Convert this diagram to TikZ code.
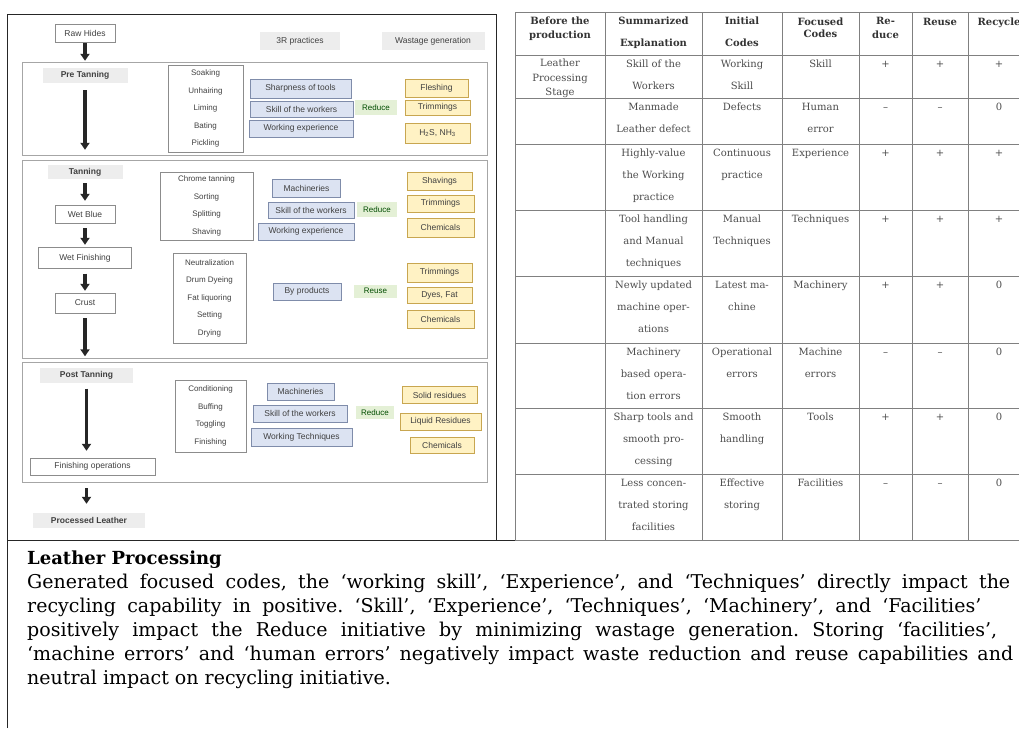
\documentclass[tikz,border=0pt]{standalone}
\usepackage{fontspec}
\setmainfont{DejaVu Serif}
\newfontfamily\diagfont{Liberation Sans}
\usepackage{tikz}
\usetikzlibrary{arrows.meta, positioning}
\tikzset{>={Triangle[width=9pt,length=7pt]}}
\frenchspacing

\definecolor{rfill}{HTML}{DCE3F2}
\definecolor{rdraw}{HTML}{7F8CAA}
\definecolor{gfill}{HTML}{E4F0D6}
\definecolor{wfill}{HTML}{FFF2C4}
\definecolor{wdraw}{HTML}{C8A650}
\definecolor{lfill}{HTML}{EDEDED}
\newcommand{\cstrut}{\rule{0pt}{7.6pt}}

\begin{document}
\begin{tikzpicture}[x=1pt, y=-1pt,
    stagebox/.style={draw=black!45, fill=white, inner sep=0pt, text=black!75, font=\diagfont\fontsize{8.5}{10}\selectfont},
    stagelabel/.style={fill=lfill, inner sep=0pt, text=black!75, font=\diagfont\bfseries\fontsize{8.5}{10}\selectfont},
    headlabel/.style={fill=lfill, inner sep=0pt, text=black!75, font=\diagfont\fontsize{8.5}{10}\selectfont},
    listbox/.style={draw=black!45, align=center, inner sep=0pt, text=black!75, font=\diagfont\fontsize{8}{17.5}\selectfont},
    rnode/.style={draw=rdraw, fill=rfill, line width=0.9pt, inner sep=0pt, text=black!75, font=\diagfont\fontsize{8.5}{10}\selectfont},
    actnode/.style={fill=gfill, inner sep=0pt, text=green!30!black, font=\diagfont\fontsize{8}{10}\selectfont},
    wastenode/.style={draw=wdraw, fill=wfill, line width=0.9pt, inner sep=0pt, text=black!75, font=\diagfont\fontsize{8.5}{10}\selectfont},
    bigarrow/.style={->, line width=3.2pt, black!85},
    outline/.style={draw=black!85, line width=1pt},
    section/.style={draw=black!35, line width=1pt},
    tabline/.style={draw=black!50, line width=0.8pt},
    headcell/.style={anchor=north, align=center, inner sep=0pt, text=black!80, font=\bfseries\fontsize{10}{22}\selectfont, execute at begin node=\cstrut},
    headtight/.style={headcell, font=\bfseries\fontsize{10}{14}\selectfont},
    cell/.style={anchor=north, align=center, inner sep=0pt, text=black!70, font=\fontsize{10}{22}\selectfont, execute at begin node=\cstrut},
    celltight/.style={cell, font=\fontsize{10}{14.5}\selectfont}]

    \useasboundingbox (0,0) rectangle (1019,728);

    %Frames
    \draw[outline] (7,728) -- (7,14.5) -- (496,14.5) -- (496,540);
    \draw[outline] (7,540) -- (1019,540);
    \draw[section] (22,62) rectangle (487,155);
    \draw[section] (22,160) rectangle (487,358);
    \draw[section] (22,362) rectangle (487,482);

    %Nodes
    \node[stagebox, minimum width=60pt, minimum height=18pt](raw) at (85,33) {Raw Hides};
    \node[headlabel, minimum width=80pt, minimum height=18pt](threer) at (300,41) {3R practices};
    \node[headlabel, minimum width=103pt, minimum height=18pt](wastage) at (433,41) {Wastage generation};

    \node[stagelabel, minimum width=85pt, minimum height=15pt](pre) at (85,75) {Pre Tanning};
    \node[listbox, minimum width=75pt, minimum height=87pt](pre_list) at (205.5,108.5) {Soaking\\Unhairing\\Liming\\Bating\\Pickling};
    \node[rnode, minimum width=101pt, minimum height=19pt](pre_sharp) at (300.5,88.5) {Sharpness of tools};
    \node[rnode, minimum width=103pt, minimum height=16pt](pre_skill) at (301.5,109) {Skill of the workers};
    \node[rnode, minimum width=104pt, minimum height=17pt](pre_work) at (301,128.5) {Working experience};
    \node[actnode, minimum width=42pt, minimum height=15pt](pre_reduce) at (376,107.5) {Reduce};
    \node[wastenode, minimum width=63pt, minimum height=18pt](pre_flesh) at (436.5,88) {Fleshing};
    \node[wastenode, minimum width=65pt, minimum height=15pt](pre_trim) at (437.5,107.5) {Trimmings};
    \node[wastenode, minimum width=65pt, minimum height=20pt](pre_gas) at (437.5,133) {H\textsubscript{2}S, NH\textsubscript{3}};

    \node[stagelabel, minimum width=75pt, minimum height=14pt](tan) at (85,172) {Tanning};
    \node[stagebox, minimum width=60pt, minimum height=18pt](wetblue) at (85,214) {Wet Blue};
    \node[stagebox, minimum width=93pt, minimum height=21pt](wetfin) at (85,258) {Wet Finishing};
    \node[stagebox, minimum width=60pt, minimum height=20pt](crust) at (85,303) {Crust};
    \node[listbox, minimum width=93pt, minimum height=68pt](tan_list) at (206.5,206) {Chrome tanning\\Sorting\\Splitting\\Shaving};
    \node[listbox, minimum width=73pt, minimum height=90pt](dye_list) at (209.5,298) {Neutralization\\Drum Dyeing\\Fat liquoring\\Setting\\Drying};
    \node[rnode, minimum width=68pt, minimum height=18pt](tan_mach) at (306.5,188) {Machineries};
    \node[rnode, minimum width=86pt, minimum height=16pt](tan_skill) at (311,210) {Skill of the workers};
    \node[rnode, minimum width=96pt, minimum height=17pt](tan_work) at (306,231.5) {Working experience};
    \node[actnode, minimum width=40pt, minimum height=15pt](tan_reduce) at (377,209.5) {Reduce};
    \node[wastenode, minimum width=65pt, minimum height=18pt](tan_shave) at (439.5,181) {Shavings};
    \node[wastenode, minimum width=67pt, minimum height=17pt](tan_trim) at (440.5,203.5) {Trimmings};
    \node[wastenode, minimum width=67pt, minimum height=19pt](tan_chem) at (440.5,227.5) {Chemicals};
    \node[rnode, minimum width=68pt, minimum height=17pt](tan_byprod) at (307,291.5) {By products};
    \node[actnode, minimum width=43pt, minimum height=13pt](tan_reuse) at (375.5,291) {Reuse};
    \node[wastenode, minimum width=65pt, minimum height=19pt](dye_trim) at (439.5,272.5) {Trimmings};
    \node[wastenode, minimum width=65pt, minimum height=16pt](dye_fat) at (439.5,295) {Dyes, Fat};
    \node[wastenode, minimum width=67pt, minimum height=18pt](dye_chem) at (440.5,319) {Chemicals};

    \node[stagelabel, minimum width=93pt, minimum height=15pt](post) at (86.5,375.5) {Post Tanning};
    \node[listbox, minimum width=71pt, minimum height=72pt](post_list) at (210.5,416) {Conditioning\\Buffing\\Toggling\\Finishing};
    \node[rnode, minimum width=67pt, minimum height=17pt](post_mach) at (300.5,391.5) {Machineries};
    \node[rnode, minimum width=94pt, minimum height=17pt](post_skill) at (300,413.5) {Skill of the workers};
    \node[rnode, minimum width=101pt, minimum height=18pt](post_tech) at (301.5,437) {Working Techniques};
    \node[actnode, minimum width=38pt, minimum height=13pt](post_reduce) at (375,412.5) {Reduce};
    \node[wastenode, minimum width=75pt, minimum height=17pt](post_solid) at (439.5,395) {Solid residues};
    \node[wastenode, minimum width=81pt, minimum height=17pt](post_liquid) at (440.5,421.5) {Liquid Residues};
    \node[wastenode, minimum width=64pt, minimum height=16pt](post_chem) at (442,445) {Chemicals};
    \node[stagebox, minimum width=125pt, minimum height=17pt](finops) at (92.5,466.5) {Finishing operations};
    \node[stagelabel, minimum width=112pt, minimum height=15pt](processed) at (89,520) {Processed Leather};

    %Table
    \foreach \yy in {12,55,98,144,210,276,343,408,474,540}
        \draw[tabline] (515,\yy) -- (1030,\yy);
    \foreach \xx in {515,605,702,782,859,912,968}
        \draw[tabline] (\xx,12) -- (\xx,540);

    \node[headtight](h_before) at (560,16.5) {Before the\\production};
    \node[headcell](h_expl) at (653.5,16.5) {Summarized\\Explanation};
    \node[headcell](h_init) at (742,16.5) {Initial\\Codes};
    \node[headtight, font=\bfseries\fontsize{10}{12.5}\selectfont](h_focus) at (820.5,17.5) {Focused\\Codes};
    \node[headtight](h_reduce) at (885.5,17.5) {Re-\\duce};
    \node[headcell](h_reuse) at (940,17.5) {Reuse};
    \node[headcell](h_recycle) at (999,17.5) {Recycle};

    \node[celltight](r1_stage) at (560,59) {Leather\\Processing\\Stage};
    \node[cell](r1_expl) at (653.5,60) {Skill of the\\Workers};
    \node[cell](r1_init) at (742,60) {Working\\Skill};
    \node[cell](r1_focus) at (820.5,60) {Skill};
    \node[cell](r1_red) at (885.5,60) {+};
    \node[cell](r1_reu) at (940,60) {+};
    \node[cell](r1_rec) at (999,60) {+};

    \node[cell](r2_expl) at (653.5,103) {Manmade\\Leather defect};
    \node[cell](r2_init) at (742,103) {Defects};
    \node[cell](r2_focus) at (820.5,103) {Human\\error};
    \node[cell](r2_red) at (885.5,103) {–};
    \node[cell](r2_reu) at (940,103) {–};
    \node[cell](r2_rec) at (999,103) {0};

    \node[cell](r3_expl) at (653.5,149) {Highly-value\\the Working\\practice};
    \node[cell](r3_init) at (742,149) {Continuous\\practice};
    \node[cell](r3_focus) at (820.5,149) {Experience};
    \node[cell](r3_red) at (885.5,149) {+};
    \node[cell](r3_reu) at (940,149) {+};
    \node[cell](r3_rec) at (999,149) {+};

    \node[cell](r4_expl) at (653.5,215) {Tool handling\\and Manual\\techniques};
    \node[cell](r4_init) at (742,215) {Manual\\Techniques};
    \node[cell](r4_focus) at (820.5,215) {Techniques};
    \node[cell](r4_red) at (885.5,215) {+};
    \node[cell](r4_reu) at (940,215) {+};
    \node[cell](r4_rec) at (999,215) {+};

    \node[cell](r5_expl) at (653.5,281) {Newly updated\\machine oper-\\ations};
    \node[cell](r5_init) at (742,281) {Latest ma-\\chine};
    \node[cell](r5_focus) at (820.5,281) {Machinery};
    \node[cell](r5_red) at (885.5,281) {+};
    \node[cell](r5_reu) at (940,281) {+};
    \node[cell](r5_rec) at (999,281) {0};

    \node[cell](r6_expl) at (653.5,348) {Machinery\\based opera-\\tion errors};
    \node[cell](r6_init) at (742,348) {Operational\\errors};
    \node[cell](r6_focus) at (820.5,348) {Machine\\errors};
    \node[cell](r6_red) at (885.5,348) {–};
    \node[cell](r6_reu) at (940,348) {–};
    \node[cell](r6_rec) at (999,348) {0};

    \node[cell](r7_expl) at (653.5,413) {Sharp tools and\\smooth pro-\\cessing};
    \node[cell](r7_init) at (742,413) {Smooth\\handling};
    \node[cell](r7_focus) at (820.5,413) {Tools};
    \node[cell](r7_red) at (885.5,413) {+};
    \node[cell](r7_reu) at (940,413) {+};
    \node[cell](r7_rec) at (999,413) {0};

    \node[cell](r8_expl) at (653.5,479) {Less concen-\\trated storing\\facilities};
    \node[cell](r8_init) at (742,479) {Effective\\storing};
    \node[cell](r8_focus) at (820.5,479) {Facilities};
    \node[cell](r8_red) at (885.5,479) {–};
    \node[cell](r8_reu) at (940,479) {–};
    \node[cell](r8_rec) at (999,479) {0};

    %Summary text
    \node[anchor=north west, align=left, inner sep=0pt, font=\fontsize{19}{24}\selectfont](summary) at (27,551) {%
        \textbf{\fontsize{18}{24}\selectfont Leather Processing}\\
        \makebox[983pt][s]{Generated focused codes, the ‘working skill’, ‘Experience’, and ‘Techniques’ directly impact the}\\
        \makebox[954pt][s]{recycling capability in positive. ‘Skill’, ‘Experience’, ‘Techniques’, ‘Machinery’, and ‘Facilities’}\\
        \makebox[970pt][s]{positively impact the Reduce initiative by minimizing wastage generation. Storing ‘facilities’,}\\
        \makebox[986pt][s]{‘machine errors’ and ‘human errors’ negatively impact waste reduction and reuse capabilities and}\\
        neutral impact on recycling initiative.};

    %Lines
    \draw[bigarrow, shorten <=1pt, shorten >=6.5pt] (raw.south) -- (pre.north);
    \draw[bigarrow, shorten <=7.5pt, shorten >=15pt] (pre.south) -- (pre.south |- tan.north);
    \draw[bigarrow, shorten <=4pt, shorten >=4pt] (tan.south) -- (wetblue.north);
    \draw[bigarrow, shorten <=5pt, shorten >=2.5pt] (wetblue.south) -- (wetfin.north);
    \draw[bigarrow, shorten <=5pt, shorten >=2pt] (wetfin.south) -- (crust.north);
    \draw[bigarrow, shorten <=5pt, shorten >=11.5pt] (crust.south) -- (crust.south |- post.north);
    \draw[bigarrow, shorten <=5.5pt, shorten >=7pt] (post.south) -- (post.south |- finops.north);
    \draw[bigarrow, shorten <=13pt, shorten >=8.5pt] (post.south |- finops.south) -- (post.south |- processed.north);

\end{tikzpicture}
\end{document}
